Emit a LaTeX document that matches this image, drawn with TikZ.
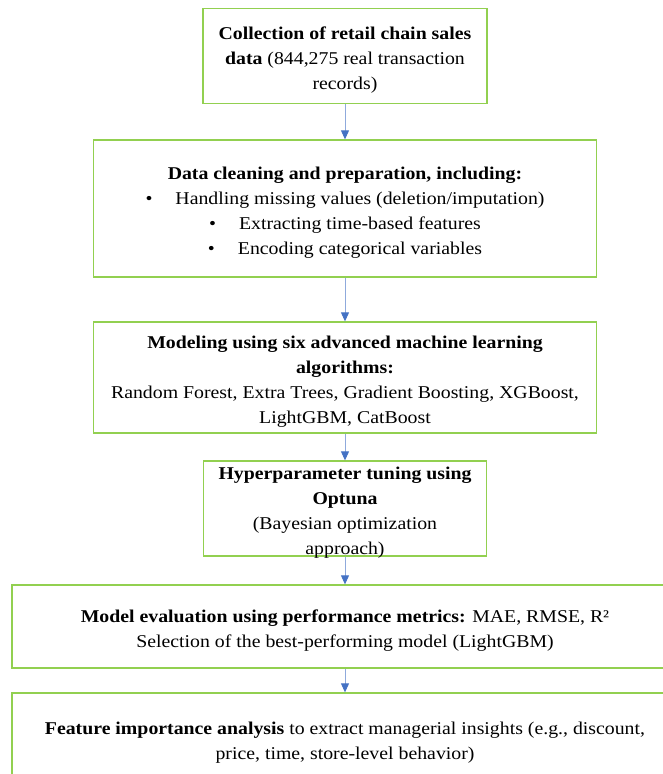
\documentclass[tikz,border=0pt]{standalone}
\usepackage{fontspec}
\setmainfont{Liberation Serif}[FakeStretch=1.1]
\usetikzlibrary{arrows.meta}
\definecolor{boxgreen}{RGB}{146,208,80}
\definecolor{arrline}{RGB}{143,170,220}
\definecolor{arrhead}{RGB}{68,114,196}
\tikzset{
  stepbox/.style={draw=boxgreen, line width=1.3pt, fill=white, inner sep=0pt},
  steptext/.style={align=center, inner sep=0pt, yshift=-4.5pt,
    font=\fontsize{18}{25}\selectfont, text=black},
  flow/.style={draw=arrline, line width=0.9pt, -{Triangle[length=9pt,width=8pt,color=arrhead]}}
}
\newcommand{\bul}{\textbullet\hspace{23pt}}
\begin{document}
\begin{tikzpicture}[x=1pt,y=-1pt]
\useasboundingbox (0,0) rectangle (663,774);
\clip (0,0) rectangle (663,774);
\node[stepbox, minimum width=284pt, minimum height=95pt] (b1) at (345,56) {};
\node[stepbox, minimum width=503pt, minimum height=137pt] (b2) at (345,208.5) {};
\node[stepbox, minimum width=503pt, minimum height=111pt] (b3) at (345,377.5) {};
\node[stepbox, minimum width=283pt, minimum height=95pt] (b4) at (345,508.5) {};
\node[stepbox, minimum width=666pt, minimum height=83pt] (b5) at (345,626.5) {};
\node[stepbox, minimum width=666pt, minimum height=90pt] (b6) at (345,738) {};
\node[steptext] (t1) at (b1)
  {\textbf{Collection of retail chain sales}\\\textbf{data} (844,275 real transaction\\records)};
\node[steptext] (t2) at (b2)
  {\textbf{Data cleaning and preparation, including:}\\
   \bul Handling missing values (deletion/imputation)\\
   \bul Extracting time-based features\\
   \bul Encoding categorical variables};
\node[steptext] (t3) at (b3)
  {\textbf{Modeling using six advanced machine learning}\\\textbf{algorithms:}\\
   Random Forest, Extra Trees, Gradient Boosting, XGBoost,\\LightGBM, CatBoost};
\node[steptext] (t4) at (b4)
  {\textbf{Hyperparameter tuning using}\\\textbf{Optuna}\\(Bayesian optimization\\approach)};
\node[steptext] (t5) at (b5)
  {\textbf{Model evaluation using performance metrics:} MAE, RMSE, R²\\
   Selection of the best-performing model (LightGBM)};
\node[steptext] (t6) at (b6)
  {\textbf{Feature importance analysis} to extract managerial insights (e.g., discount,\\
   price, time, store-level behavior)};
\draw[flow] (b1) -- (b2);
\draw[flow] (b2) -- (b3);
\draw[flow] (b3) -- (b4);
\draw[flow] (b4) -- (b5);
\draw[flow] (b5) -- (b6);
\end{tikzpicture}
\end{document}
